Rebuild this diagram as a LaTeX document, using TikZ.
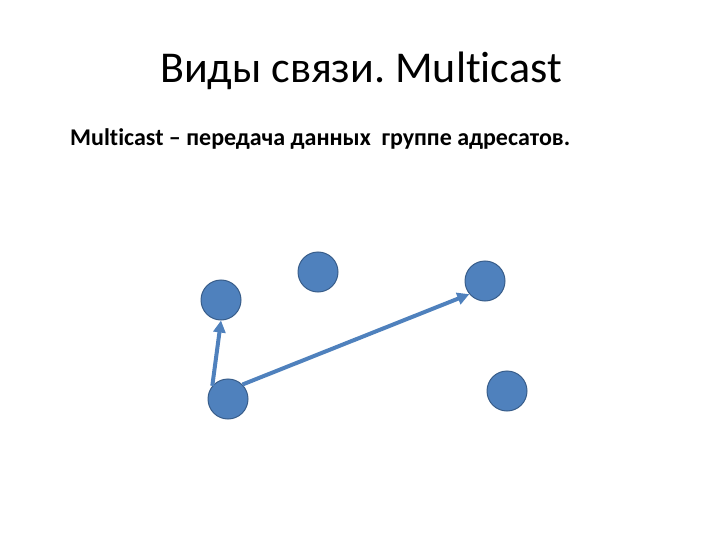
\documentclass[tikz,border=0pt]{standalone}
\usepackage{fontspec}
\setmainfont{Carlito}[Ligatures={TeX,NoCommon}]
\frenchspacing
\usetikzlibrary{positioning, arrows.meta}
\definecolor{hostblue}{HTML}{4F81BD}
\definecolor{hostedge}{HTML}{385D8A}

\begin{document}
\begin{tikzpicture}[x=1pt, y=-1pt, host/.style={draw=hostedge, fill=hostblue, circle, line width=1pt, minimum size=40pt, inner sep=0pt}, link/.style={-{Triangle[length=12pt, width=12pt]}, draw=hostblue, line width=4pt}]

	\useasboundingbox (0,0) rectangle (720,540);

	\node[anchor=base] (title) at (361,83) {\fontsize{44}{52}\selectfont Виды связи. Multicast};
	\node[anchor=base west, inner sep=0pt] (subtitle) at (70,146) {\fontsize{24}{28}\selectfont\bfseries Multicast – передача данных\ \ группе адресатов.};

	\foreach \position [count=\i] in {(221,300), (318,272), (485,281), (228,399), (507,391)}
	{
		\node[host] (\i) at \position {};
	}

	\draw[link] (4.140) -- (1.south);
	\draw[link] (4.45) -- (3.220);

\end{tikzpicture}
\end{document}
